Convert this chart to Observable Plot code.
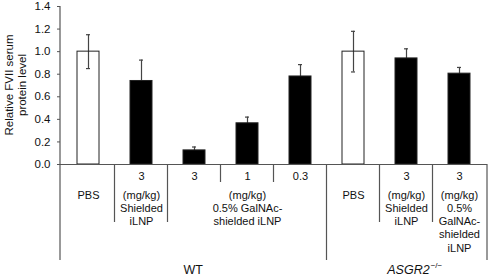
<!DOCTYPE html>
<html><head><meta charset="utf-8">
<script src="https://cdn.jsdelivr.net/npm/d3@7"></script>
<script src="https://cdn.jsdelivr.net/npm/@observablehq/plot@0.6"></script>
<style>body{margin:0;background:#fff}svg{display:block}</style>
</head><body><div id="chart"></div>
<script>
// ---- data ----
const groups = ["WT","WT","WT","WT","WT","ASGR2","ASGR2","ASGR2"];
const treatments = ["PBS","Shielded","GalNAc","GalNAc","GalNAc","PBS","Shielded","GalNAc"];
const doses = ["","3","3","1","0.3","","3","3"];
const means = [1.00, 0.74, 0.125, 0.365, 0.78, 1.00, 0.94, 0.805];
const errs  = [0.15, 0.185, 0.03, 0.055, 0.105, 0.18, 0.085, 0.055];
const yTicks = [0, 0.2, 0.4, 0.6, 0.8, 1.0, 1.2, 1.4];
const yTitle = ["Relative FVII serum", "protein level"];
const labelCols = [0, 1, 3, 5, 6, 7];
const labelTexts = [
  "PBS",
  "(mg/kg)\nShielded\niLNP",
  "(mg/kg)\n0.5% GalNAc-\nshielded iLNP",
  "PBS",
  "(mg/kg)\nShielded\niLNP",
  "(mg/kg)\n0.5%\nGalNAc-\nshielded\niLNP"
];
const groupNames = ["WT", "ASGR2"];
const groupSup = ["", "\u2212/\u2212"];

const data = means.map((m, i) => ({i, group: groups[i], treatment: treatments[i], dose: doses[i], mean: m, err: errs[i]}));
const labels = labelCols.map((c, k) => ({i: c, text: labelTexts[k]}));

const font = "Liberation Sans, Arial, Helvetica, sans-serif";
const axisColor = "#555";

const plot = Plot.plot({
  width: 488, height: 278,
  marginLeft: 60, marginRight: 1, marginTop: 6, marginBottom: 114,
  style: {fontFamily: font, fontSize: "11px", background: "white", color: "#111"},
  x: {type: "band", domain: d3.range(8), paddingInner: 0.58, paddingOuter: 0.3, axis: null},
  y: {domain: [0, 1.4], axis: null},
  marks: [
    Plot.axisY(yTicks, {tickFormat: d => d.toFixed(1), tickSize: 3, tickPadding: 7, stroke: axisColor, fontSize: 11.5, label: null}),
    Plot.ruleX(data, {x: "i", y1: d => d.mean - d.err, y2: d => d.mean + d.err, stroke: "#444", strokeWidth: 1.2}),
    Plot.tickY(data, {x: "i", y: d => d.mean + d.err, stroke: "#444", strokeWidth: 1.2, insetLeft: 9, insetRight: 9}),
    Plot.tickY(data, {x: "i", y: d => d.mean - d.err, stroke: "#444", strokeWidth: 1.2, insetLeft: 9, insetRight: 9}),
    Plot.barY(data, {x: "i", y: "mean", fill: d => d.treatment === "PBS" ? "none" : "black", stroke: "#222", strokeWidth: 1}),
    Plot.ruleY([0], {stroke: axisColor, strokeWidth: 1.2}),
    Plot.text(data.filter(d => d.dose !== ""), {x: "i", text: "dose", frameAnchor: "bottom", lineAnchor: "top", dy: 8, fontSize: 11, fill: "#111"}),
    Plot.text(labels, {x: "i", text: "text", frameAnchor: "bottom", lineAnchor: "top", dy: 25, fontSize: 11, lineHeight: 1.2, fill: "#111"})
  ]
});

document.getElementById("chart").appendChild(plot);

// ---- table lines, y title, group labels via the plot's scales ----
const xs = plot.scale("x"), ys = plot.scale("y");
const center = i => xs.apply(i) + xs.bandwidth / 2;
const [x0, x1] = xs.range;
const svg = d3.select(plot);
const y0 = ys.apply(0);
const shortEnd = y0 + 18, midEnd = y0 + 58, longEnd = y0 + 96;

const seps = [{x: x0, end: longEnd}];
for (let i = 1; i < 8; i++) {
  const end = groups[i] !== groups[i - 1] ? longEnd : (treatments[i] !== treatments[i - 1] ? midEnd : shortEnd);
  seps.push({x: (center(i - 1) + center(i)) / 2, end});
}
seps.push({x: x1, end: longEnd});

const g = svg.append("g").attr("stroke", axisColor).attr("stroke-width", 1.2);
g.append("line").attr("x1", x0).attr("x2", x0).attr("y1", ys.apply(1.4)).attr("y2", y0);
seps.forEach(s => g.append("line").attr("x1", s.x).attr("x2", s.x).attr("y1", y0).attr("y2", s.end));

// y title
const tt = svg.append("text")
  .attr("transform", `translate(9, ${ys.apply(0.7)}) rotate(-90)`)
  .attr("text-anchor", "middle").attr("font-family", font).attr("font-size", 11.5).attr("fill", "#111");
yTitle.forEach((t, k) => tt.append("tspan").attr("x", 0).attr("dy", k === 0 ? "0.35em" : "1.15em").text(t));

// group labels
groupNames.forEach((name, k) => {
  const idx = d3.range(8).filter(i => groups[i] === name);
  const left = idx[0] === 0 ? x0 : (center(idx[0] - 1) + center(idx[0])) / 2;
  const right = idx[idx.length - 1] === 7 ? x1 : (center(idx[idx.length - 1]) + center(idx[idx.length - 1] + 1)) / 2;
  const t = svg.append("text").attr("x", (left + right) / 2 + (groupSup[k] ? 8 : 0)).attr("y", y0 + 110)
    .attr("text-anchor", "middle").attr("font-family", font).attr("font-size", 12.5).attr("fill", "#111");
  t.append("tspan").attr("font-style", groupSup[k] ? "italic" : null).text(name);
  if (groupSup[k]) t.append("tspan").attr("font-size", 8).attr("dy", -6).attr("dx", 1).text(groupSup[k]);
});
</script>
</body></html>
